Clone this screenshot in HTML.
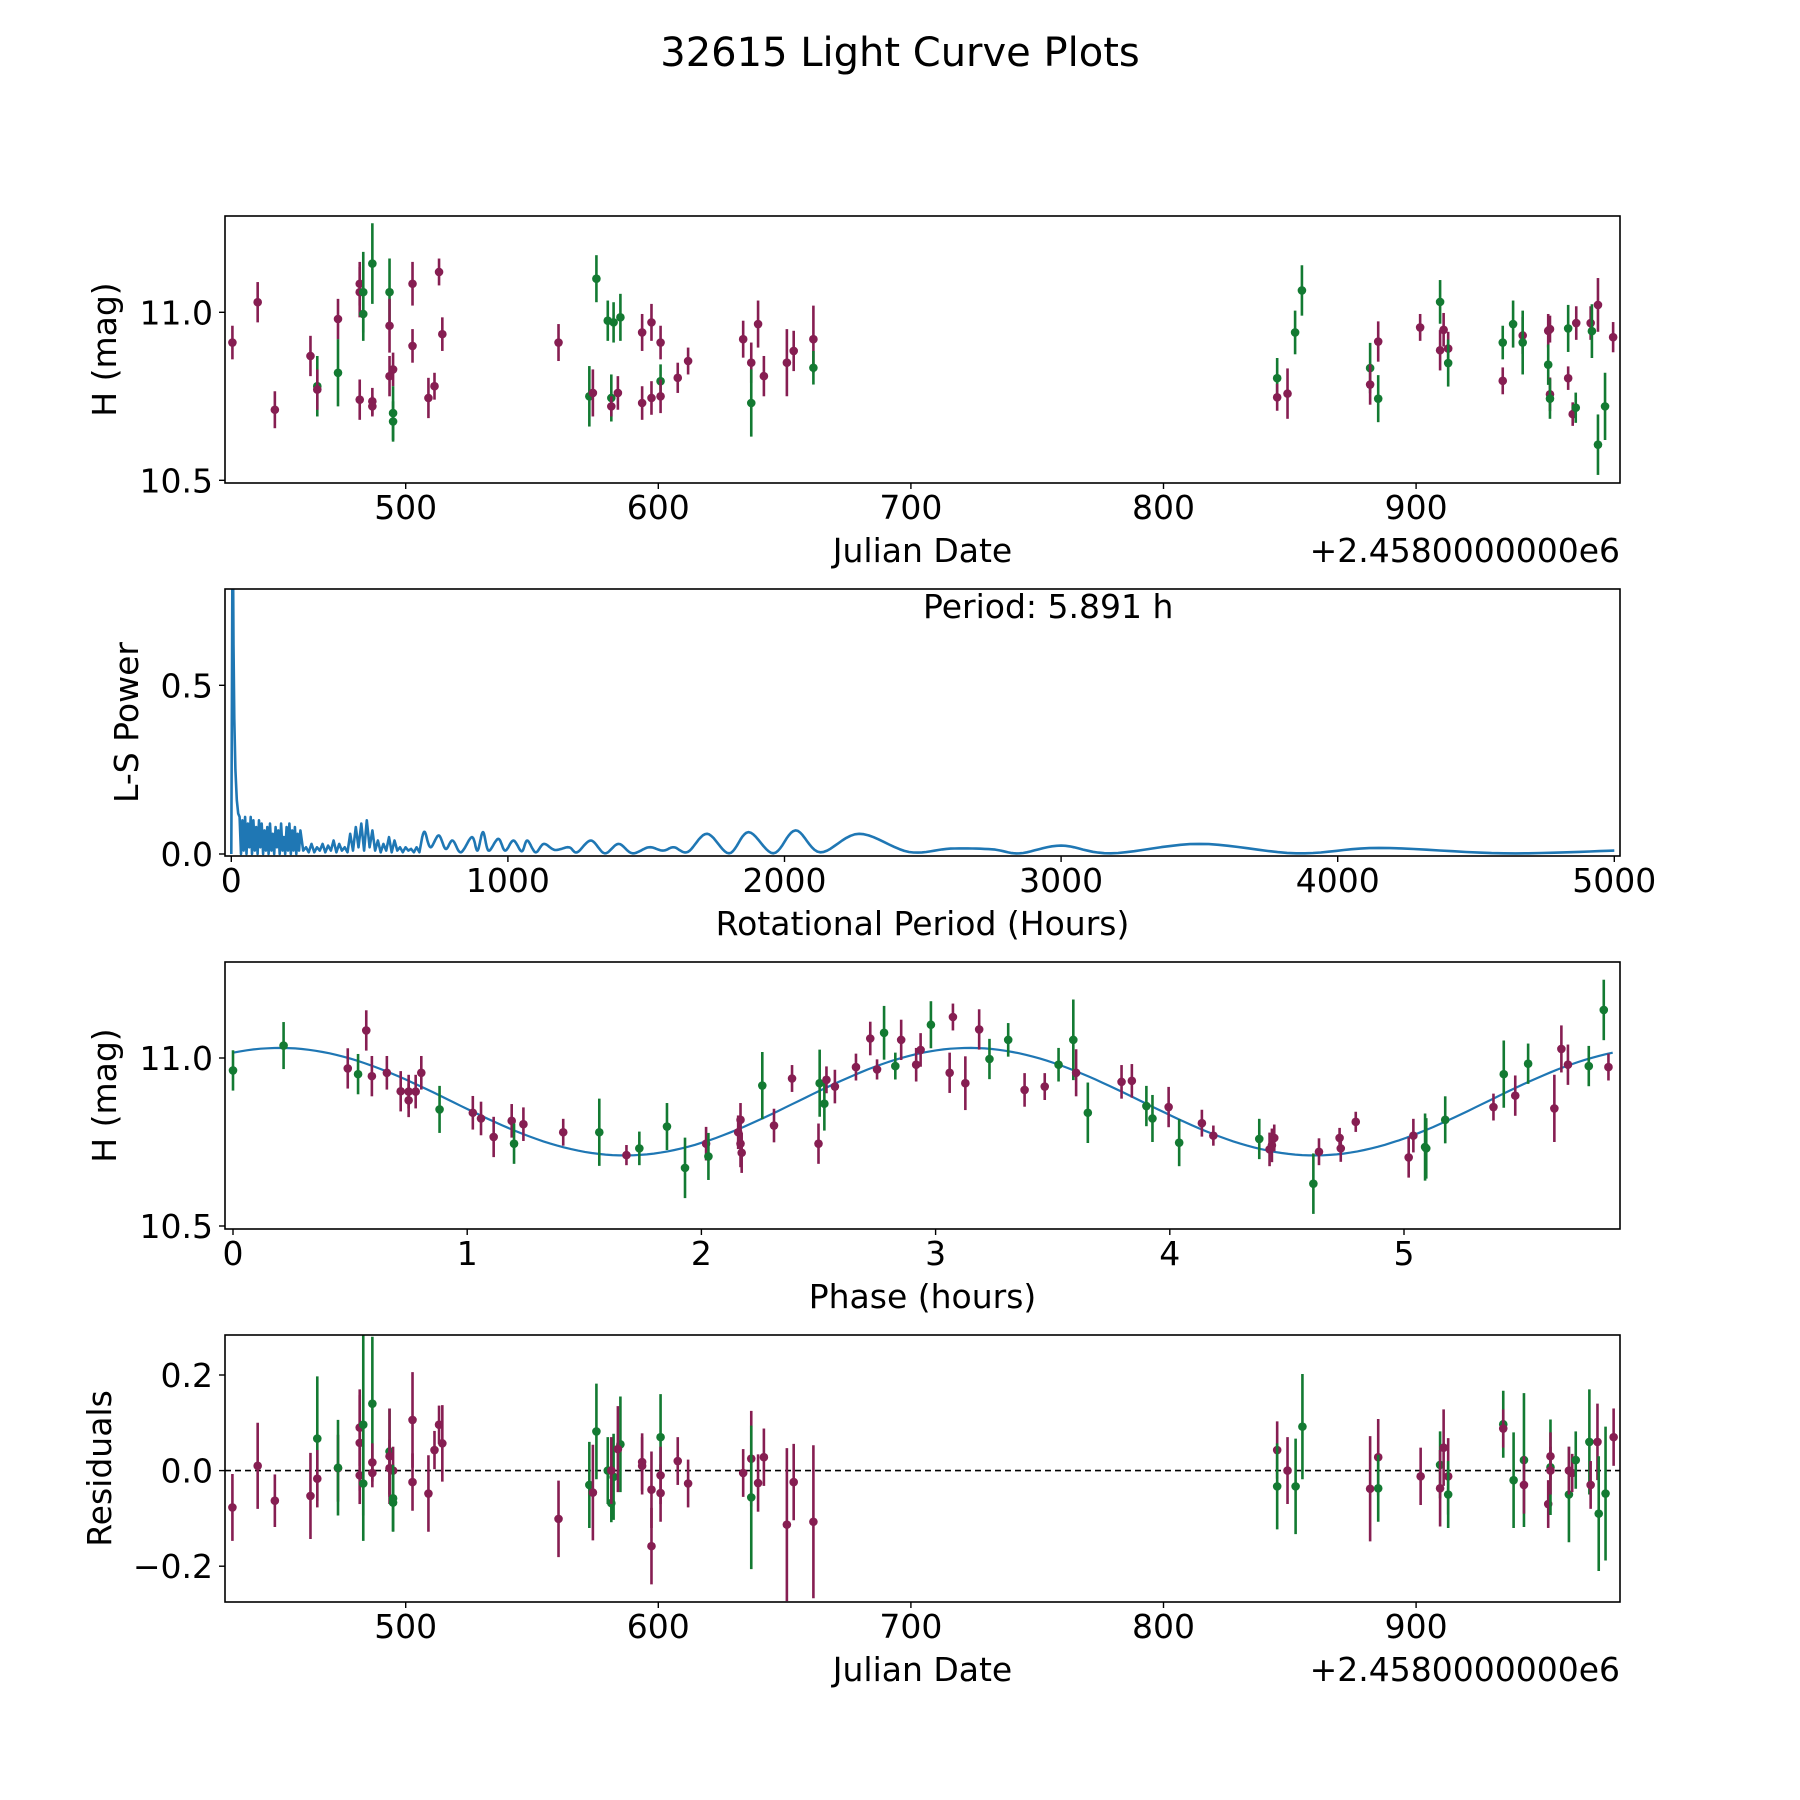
<!DOCTYPE html>
<html><head><meta charset="utf-8"><style>
html,body{margin:0;padding:0;background:#fff}
svg{display:block;font-family:"DejaVu Sans","Liberation Sans",sans-serif}
</style></head><body>
<svg id="fig" width="1800" height="1800" viewBox="0 0 1800 1800" xmlns="http://www.w3.org/2000/svg">
<rect width="1800" height="1800" fill="#fff"/>
<text x="900" y="66" font-size="40" text-anchor="middle">32615 Light Curve Plots</text>
</svg>
<script>
// ---- Panel 1: light curve data (JD offset from 2458000, H mag, error, band) ----
const lcJD=[431.4,441.4,448.2,462.3,465.0,465.0,473.2,473.2,481.8,481.8,481.8,483.2,483.2,486.8,486.8,486.8,493.6,493.6,493.6,495.0,495.0,495.0,502.7,502.7,509.0,511.4,513.2,514.5,560.5,572.7,574.1,575.5,580.0,582.3,585.0,581.4,581.4,584.0,593.6,593.6,597.3,597.3,600.9,600.9,600.9,607.7,611.8,633.6,636.8,636.8,639.5,641.8,650.9,653.6,661.4,661.4,845.0,845.0,849.1,852.1,854.8,881.8,881.8,885.0,885.0,901.6,909.5,909.5,910.9,912.7,912.7,934.3,934.3,938.4,942.2,942.2,952.3,953.0,952.3,953.0,953.0,960.2,960.2,962.0,963.2,963.4,969.1,969.6,972.0,972.0,974.8,978.0];
const lcMag=[10.91,11.03,10.71,10.87,10.78,10.77,10.98,10.82,10.74,11.085,11.06,11.06,10.995,11.145,10.735,10.72,11.06,10.96,10.81,10.83,10.70,10.675,11.085,10.90,10.745,10.78,11.12,10.935,10.91,10.75,10.76,11.10,10.975,10.97,10.985,10.745,10.72,10.76,10.94,10.73,10.97,10.745,10.91,10.795,10.75,10.805,10.855,10.92,10.85,10.73,10.965,10.81,10.85,10.885,10.92,10.835,10.804,10.747,10.758,10.94,11.065,10.834,10.785,10.913,10.743,10.955,11.031,10.887,10.948,10.892,10.849,10.91,10.796,10.965,10.931,10.91,10.945,10.95,10.844,10.756,10.743,10.952,10.804,10.697,10.716,10.968,10.968,10.944,11.022,10.606,10.72,10.926];
const lcErr=[0.05,0.06,0.055,0.06,0.09,0.06,0.06,0.1,0.06,0.065,0.075,0.12,0.08,0.12,0.04,0.03,0.1,0.08,0.06,0.05,0.08,0.06,0.065,0.05,0.06,0.04,0.04,0.05,0.055,0.09,0.07,0.07,0.06,0.06,0.07,0.07,0.03,0.05,0.055,0.05,0.055,0.05,0.05,0.05,0.05,0.045,0.04,0.055,0.06,0.1,0.07,0.06,0.1,0.06,0.1,0.05,0.06,0.04,0.075,0.065,0.075,0.075,0.06,0.06,0.07,0.04,0.065,0.06,0.05,0.05,0.07,0.05,0.04,0.07,0.055,0.095,0.05,0.04,0.06,0.05,0.06,0.07,0.035,0.035,0.045,0.05,0.05,0.08,0.08,0.09,0.1,0.045];
const lcBand=("ppppgppgpp"+"pgggppgppp"+"ggpppppppg"+"pgggggpppp"+"pppgpppppg"+"pppppg"+"gppgggppgp"+"gpppggpgpg"+"ppgpggppgp"+"pgpggp").split("");

// ---- Panel 2: Lomb-Scargle periodogram ----
const lsPeriod=[0,2,4,5.9,8,11,15,20,25,30,35,40,45,50,55,60,65,70,75,80,85,90,95,100,105,110,115,120,125,130,135,140,145,150,155,160,165,170,175,180,185,190,195,200,205,210,215,220,225,230,235,240,245,250,260,270,280,290,300,310,320,330,340,350,360,370,380,390,400,410,420,430,440,450,460,470,480,490,500,510,520,530,540,550,560,570,580,590,600,610,620,630,640,650,660,670,680,690];
const lsPower=[0,0.45,0.85,0.95,0.62,0.4,0.25,0.16,0.12,0.11,0.0,0.1,0.01,0.11,0.0,0.09,0.02,0.11,0.0,0.1,0.01,0.08,0.0,0.1,0.02,0.09,0.0,0.07,0.01,0.08,0.0,0.09,0.01,0.06,0.0,0.08,0.02,0.07,0.0,0.09,0.01,0.05,0.0,0.08,0.01,0.09,0.0,0.07,0.01,0.08,0.0,0.06,0.01,0.07,0.01,0.02,0.005,0.03,0.005,0.02,0.01,0.03,0.005,0.025,0.01,0.04,0.005,0.03,0.01,0.02,0.005,0.06,0.01,0.08,0.02,0.09,0.01,0.10,0.02,0.07,0.01,0.04,0.005,0.03,0.01,0.05,0.005,0.04,0.01,0.02,0.005,0.02,0.01,0.015,0.005,0.02,0.005,0.05];
const lsSmoothPeriod=[700,720,750,775,800,830,870,890,910,930,965,990,1020,1050,1070,1100,1130,1170,1220,1250,1300,1350,1400,1450,1510,1560,1600,1650,1720,1800,1870,1960,2040,2130,2270,2450,2600,2750,2850,3000,3180,3500,3850,4150,4600,5000];
const lsSmoothPower=[0.065,0.02,0.055,0.015,0.04,0.005,0.05,0.01,0.065,0.01,0.045,0.01,0.04,0.008,0.04,0.005,0.03,0.012,0.02,0.005,0.04,0.002,0.03,0.002,0.02,0.01,0.02,0.006,0.06,0.002,0.065,0.002,0.07,0.005,0.06,0.006,0.016,0.014,0.002,0.025,0.002,0.03,0.002,0.018,0.002,0.01];
const bestPeriod=5.891;

// ---- Panel 3: phased data ----
const phPhase=[0,0.216,0.49,0.534,0.569,0.593,0.657,0.716,0.75,0.75,0.78,0.804,0.882,1.024,1.059,1.113,1.19,1.2,1.24,1.41,1.564,1.68,1.735,1.853,1.93,2.02,2.03,2.157,2.167,2.167,2.172,2.26,2.31,2.387,2.5,2.505,2.525,2.534,2.57,2.66,2.721,2.75,2.78,2.828,2.853,2.917,2.936,2.98,3.06,3.074,3.127,3.186,3.23,3.31,3.38,3.466,3.525,3.588,3.6,3.65,3.794,3.838,3.9,3.926,3.995,4.04,4.137,4.186,4.382,4.426,4.436,4.446,4.613,4.637,4.725,4.73,4.794,5.02,5.04,5.09,5.095,5.176,5.382,5.426,5.475,5.53,5.642,5.672,5.70,5.789,5.853,5.873];
const phMag=[10.963,11.037,10.969,10.952,11.082,10.946,10.956,10.901,10.874,10.9,10.9,10.956,10.847,10.837,10.82,10.765,10.813,10.745,10.803,10.779,10.779,10.711,10.731,10.796,10.673,10.745,10.707,10.779,10.816,10.745,10.718,10.918,10.799,10.939,10.745,10.925,10.864,10.935,10.915,10.973,11.058,10.966,11.075,10.976,11.054,10.98,11.024,11.099,10.956,11.122,10.925,11.085,10.997,11.054,10.905,10.915,10.98,11.054,10.956,10.837,10.929,10.932,10.857,10.82,10.854,10.748,10.806,10.769,10.759,10.728,10.74,10.762,10.626,10.721,10.762,10.731,10.81,10.704,10.769,10.735,10.731,10.816,10.854,10.952,10.888,10.983,10.85,11.027,10.98,10.976,11.143,10.973];
const phErr=[0.06,0.07,0.06,0.06,0.06,0.06,0.05,0.06,0.05,0.05,0.05,0.05,0.07,0.05,0.05,0.06,0.05,0.06,0.05,0.04,0.1,0.03,0.05,0.07,0.09,0.05,0.07,0.05,0.05,0.07,0.06,0.1,0.05,0.04,0.06,0.1,0.08,0.04,0.05,0.04,0.05,0.03,0.08,0.04,0.06,0.05,0.05,0.07,0.06,0.04,0.08,0.06,0.06,0.05,0.05,0.04,0.05,0.12,0.07,0.09,0.05,0.05,0.06,0.07,0.06,0.07,0.04,0.03,0.06,0.05,0.05,0.04,0.09,0.04,0.03,0.04,0.03,0.06,0.05,0.1,0.09,0.07,0.04,0.1,0.06,0.06,0.1,0.07,0.06,0.06,0.09,0.04];
const phBand=("ggpgpppppp"+"ppgppppgpp"+"gpgggpgppp"+"pgpppggppp"+"ppggpppgpp"+"ppggppggpg"+"ppggpgppgp"+"ppgppppppg"+"ggpgpgpppg"+"gp").split("");
const modelMean=10.87, modelAmp=0.16, modelPeakPhase=0.2;

// ---- Panel 4: residuals ----
const resJD=[431.4,441.4,448.2,462.3,465,465,473.2,473.2,481.8,481.8,481.8,483.2,483.2,486.8,486.8,486.8,493.6,493.6,493.6,495,495,495,502.7,502.7,509,511.4,513.2,514.5,560.5,572.7,574.1,575.5,580,582.3,585,581.4,581.4,584,593.6,593.6,597.3,597.3,600.9,600.9,600.9,607.7,611.8,633.6,636.8,636.8,639.5,641.8,650.9,653.6,661.4,845,845,849.1,852.3,855,881.8,885,885,901.8,909.5,909.5,910.9,912.7,912.7,934.5,934.5,938.6,942.7,942.7,952.3,953.2,953.2,953.2,960.5,960.5,961.8,963.2,968.6,969.1,971.8,972.3,975,978.2];
const resVal=[-0.077,0.01,-0.063,-0.053,0.067,-0.017,0.005,0.006,0.058,0.09,-0.01,0.096,-0.027,0.14,0.017,-0.005,0.04,0.005,0.03,0,-0.058,-0.067,0.106,-0.024,-0.048,0.043,0.096,0.057,-0.101,-0.03,-0.046,0.082,0,-0.013,0.055,-0.068,0,0.045,0.018,0.01,-0.04,-0.158,-0.047,0.07,-0.01,0.02,-0.027,-0.005,0.025,-0.056,-0.026,0.028,-0.113,-0.024,-0.107,0.043,-0.033,0,-0.033,0.092,-0.038,0.028,-0.037,-0.012,0.012,-0.037,0.048,-0.012,-0.05,0.097,0.088,-0.02,0.022,-0.03,-0.07,0.007,0.03,0,-0.05,0,-0.005,0.022,0.06,-0.03,0.06,-0.09,-0.048,0.07];
const resErr=[0.07,0.09,0.055,0.09,0.13,0.06,0.07,0.1,0.1,0.08,0.06,0.19,0.12,0.14,0.04,0.03,0.09,0.06,0.1,0.05,0.07,0.06,0.1,0.06,0.08,0.04,0.04,0.08,0.08,0.09,0.1,0.1,0.07,0.09,0.1,0.04,0.07,0.09,0.06,0.06,0.08,0.08,0.06,0.09,0.06,0.05,0.05,0.05,0.1,0.15,0.06,0.06,0.16,0.08,0.16,0.06,0.09,0.07,0.1,0.11,0.11,0.08,0.07,0.06,0.07,0.08,0.08,0.08,0.07,0.07,0.04,0.1,0.14,0.06,0.05,0.1,0.05,0.05,0.1,0.05,0.04,0.06,0.11,0.05,0.08,0.12,0.14,0.06];
const resBand=("ppppgppgpp"+"pgggppgppp"+"ggpppppppg"+"pgggggpppp"+"pppgpppppg"+"ppppp"+"pgpggppgpg"+"pppggpggpp"+"gppgppggpp"+"ggp").split("");

const COL={p:"#861e52",g:"#137a32"};
const NS="http://www.w3.org/2000/svg";
const svg=document.getElementById("fig");
function el(tag,attrs,parent){const e=document.createElementNS(NS,tag);for(const k in attrs)e.setAttribute(k,attrs[k]);(parent||svg).appendChild(e);return e;}
function lin(d0,d1,p0,p1){return v=>p0+(v-d0)/(d1-d0)*(p1-p0);}

const L=225,R=1620;
const panels=[{t:216,b:483},{t:589,b:856},{t:962,b:1229},{t:1335,b:1602}];
let clipN=0;
function makePanel(p,name){
  const g=el("g",{});
  
  
  clipN++;
  const cp=el("clipPath",{id:"clip"+clipN},g);
  el("rect",{x:L,y:p.t,width:R-L,height:p.b-p.t},cp);
  const inner=el("g",{"clip-path":"url(#clip"+clipN+")"},g);
  
  
  return {g,inner};
}
function frame(g,p){
  const r=el("rect",{x:L,y:p.t,width:R-L,height:p.b-p.t,fill:"none",stroke:"#000","stroke-width":1.6},g);
  
  
}
function xTicks(g,p,ticks,labels,sx){
  ticks.forEach((v,i)=>{const x=sx(v);
    const l=el("line",{x1:x,x2:x,y1:p.b,y2:p.b+6,stroke:"#000","stroke-width":1.4},g);
    
    
    const t=el("text",{x:x,y:p.b+36,"font-size":33,"text-anchor":"middle"},g);t.textContent=labels[i];
    
    });
}
function yTicks(g,p,ticks,labels,sy){
  ticks.forEach((v,i)=>{const y=sy(v);
    const l=el("line",{x1:L-6,x2:L,y1:y,y2:y,stroke:"#000","stroke-width":1.4},g);
    
    
    const t=el("text",{x:L-12,y:y+12,"font-size":33,"text-anchor":"end"},g);t.textContent=labels[i];
    
    });
}
function xLabel(g,p,txt,name){const t=el("text",{x:(L+R)/2,y:p.b+79,"font-size":33,"text-anchor":"middle"},g);t.textContent=txt;
  
  }
function yLabel(g,p,txt,x,name){const cy=(p.t+p.b)/2;const t=el("text",{x:x,y:cy,"font-size":33,"text-anchor":"middle",transform:"rotate(-90 "+x+" "+cy+")"},g);t.textContent=txt;
  
  }
function offsetText(g,p){const t=el("text",{x:R,y:p.b+79,"font-size":33,"text-anchor":"end"},g);t.textContent="+2.4580000000e6";
  
  }
function errPoints(inner,xs,ys,es,bands,sx,sy,name){
  xs.forEach((xv,i)=>{const x=sx(xv),c=COL[bands[i]]||COL.p;
    const ln=el("line",{x1:x,x2:x,y1:sy(ys[i]-es[i]),y2:sy(ys[i]+es[i]),stroke:c,"stroke-width":2.6},inner);
    
    
    const d=el("circle",{cx:x,cy:sy(ys[i]),r:4.3,fill:c},inner);
    
    });
}
const sxJD=lin(500,600,405.7,658.3);

// Panel 1
(function(){const p=panels[0];const {g,inner}=makePanel(p,"light-curve-panel");
  const sy=lin(10.5,11.0,480.3,312.3);
  errPoints(inner,lcJD,lcMag,lcErr,lcBand,sxJD,sy,"light-curve");
  frame(g,p);xTicks(g,p,[500,600,700,800,900],["500","600","700","800","900"],sxJD);
  yTicks(g,p,[10.5,11.0],["10.5","11.0"],sy);
  xLabel(g,p,"Julian Date","x-axis-title-julian-date");offsetText(g,p);yLabel(g,p,"H (mag)",116,"y-axis-title-h-mag");})();

// Panel 2
(function(){const p=panels[1];const {g,inner}=makePanel(p,"periodogram-panel");
  const sx=lin(0,1000,231.3,507.9),sy=lin(0,0.5,854,685.3);
  const pts=lsPeriod.map((v,i)=>[sx(v),sy(lsPower[i])]);
  const sp=lsSmoothPeriod.map((v,i)=>[sx(v),sy(lsSmoothPower[i])]);
  const all=[pts[pts.length-1]].concat(sp);
  for(let i=0;i<all.length-1;i++){const p0=all[Math.max(0,i-1)],p1=all[i],p2=all[i+1],p3=all[Math.min(all.length-1,i+2)];
    for(let k=1;k<=10;k++){const t=k/10,t2=t*t,t3=t2*t;
      const f=(a,b,c,d)=>0.5*((2*b)+(-a+c)*t+(2*a-5*b+4*c-d)*t2+(-a+3*b-3*c+d)*t3);
      pts.push([f(p0[0],p1[0],p2[0],p3[0]),Math.min(sy(0)+1,f(p0[1],p1[1],p2[1],p3[1]))]);}}
  const path=el("path",{d:"M"+pts.map(q=>q[0].toFixed(1)+","+q[1].toFixed(1)).join("L"),fill:"none",stroke:"#1f77b4","stroke-width":2.6,"stroke-linejoin":"round"},inner);
  
  
  frame(g,p);xTicks(g,p,[0,1000,2000,3000,4000,5000],["0","1000","2000","3000","4000","5000"],sx);
  yTicks(g,p,[0,0.5],["0.0","0.5"],sy);
  const a=el("text",{x:923,y:618,"font-size":33},g);a.textContent="Period: "+bestPeriod.toFixed(3)+" h";
  
  
  xLabel(g,p,"Rotational Period (Hours)","x-axis-title-rotational-period");yLabel(g,p,"L-S Power",138,"y-axis-title-ls-power");})();

// Panel 3
(function(){const p=panels[2];const {g,inner}=makePanel(p,"phased-curve-panel");
  const sx=lin(0,5,233,1404),sy=lin(10.5,11.0,1226,1058);
  const n=200,pts=[];
  for(let i=0;i<=n;i++){const t=bestPeriod*i/n;pts.push([sx(t),sy(modelMean+modelAmp*Math.cos(2*Math.PI*(t-modelPeakPhase)/(bestPeriod/2)))]);}
  const path=el("path",{d:"M"+pts.map(q=>q[0].toFixed(1)+","+q[1].toFixed(1)).join("L"),fill:"none",stroke:"#1f77b4","stroke-width":2.2},inner);
  
  
  errPoints(inner,phPhase,phMag,phErr,phBand,sx,sy,"phased");
  frame(g,p);xTicks(g,p,[0,1,2,3,4,5],["0","1","2","3","4","5"],sx);
  yTicks(g,p,[10.5,11.0],["10.5","11.0"],sy);
  xLabel(g,p,"Phase (hours)","x-axis-title-phase");yLabel(g,p,"H (mag)",116,"y-axis-title-phased-h-mag");})();

// Panel 4
(function(){const p=panels[3];const {g,inner}=makePanel(p,"residuals-panel");
  const sy=lin(0,0.2,1470.6,1375);
  const z=el("line",{x1:L,x2:R,y1:sy(0),y2:sy(0),stroke:"#000","stroke-width":1.6,"stroke-dasharray":"6,4"},inner);
  
  
  errPoints(inner,resJD,resVal,resErr,resBand,sxJD,sy,"residual");
  frame(g,p);xTicks(g,p,[500,600,700,800,900],["500","600","700","800","900"],sxJD);
  yTicks(g,p,[-0.2,0,0.2],["\u22120.2","0.0","0.2"],sy);
  xLabel(g,p,"Julian Date","x-axis-title-residual-julian-date");offsetText(g,p);yLabel(g,p,"Residuals",111,"y-axis-title-residuals");})();
</script>
</body></html>
